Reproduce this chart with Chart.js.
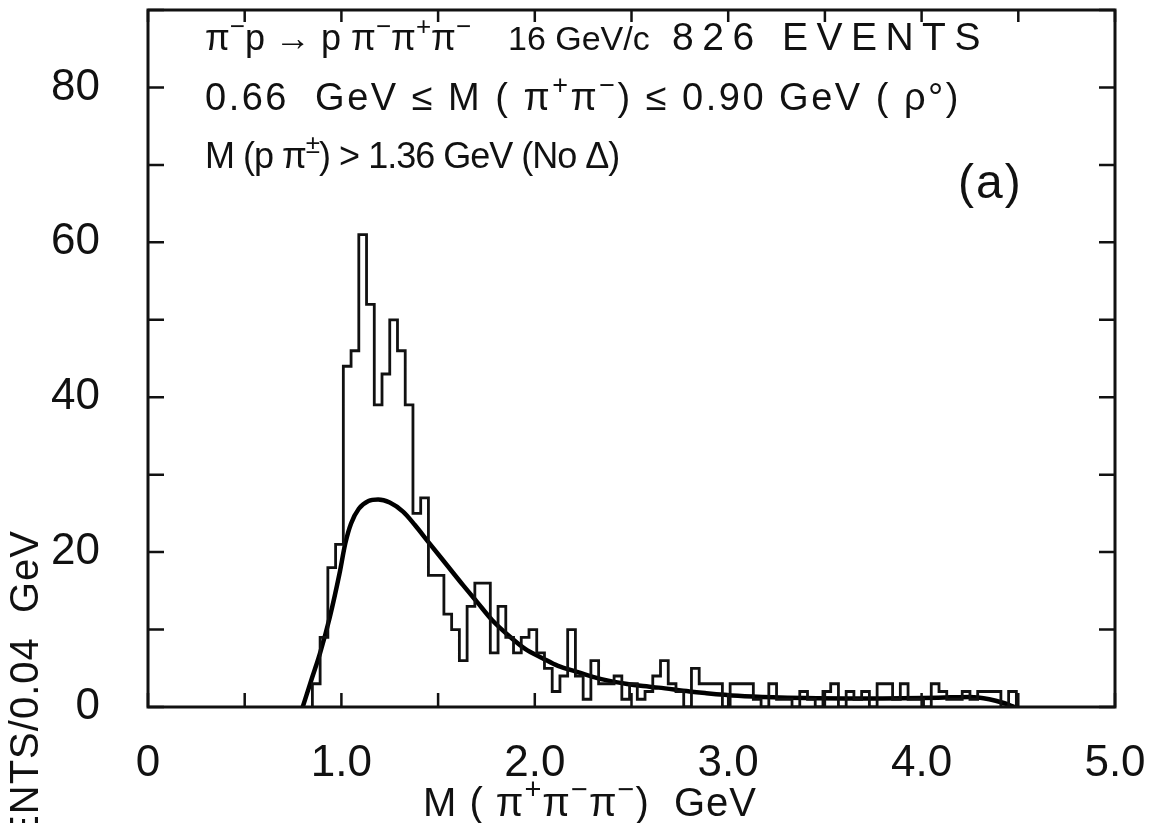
<!DOCTYPE html>
<html lang="en">
<head>
    <meta charset="UTF-8">
    <title>M(π+π−π−) spectrum, 16 GeV/c</title>
    <script src="https://cdn.jsdelivr.net/npm/chart.js"></script>
    <style>
        * {
            margin: 0;
            padding: 0;
            box-sizing: border-box;
        }

        body {
            background: #fff;
            width: 1158px;
            height: 823px;
            overflow: hidden;
        }

        .plot {
            position: relative;
            width: 1158px;
            height: 823px;
        }
    </style>
</head>
<body>
    <div class="plot">
        <canvas id="massChart"></canvas>
    </div>

    <script>
        // Histogram: events per 0.04 GeV bin, first bin starts at 0.85 GeV
        const binStart = 0.85;
        const binWidth = 0.04;
        const binCounts = [
            3, 9, 18, 21, 44, 46, 61, 52, 39, 43,
            50, 46, 39, 25, 27, 17, 17, 12, 10, 6,
            13, 16, 16, 7, 13, 9, 7, 9, 10, 7,
            5, 2, 4, 10, 4, 1, 6, 3, 3, 4,
            1, 3, 1, 2, 4, 6, 3, 2, 0, 5,
            3, 3, 3, 0, 3, 3, 3, 1, 0, 3,
            1, 1, 0, 2, 1, 0, 2, 3, 0, 2,
            1, 2, 0, 3, 3, 1, 3, 1, 1, 0,
            3, 2, 1, 1, 2, 1, 2, 2, 2, 0,
            2
        ];

        // Smooth curve drawn over the histogram
        const fitMass = [0.80, 0.85, 0.89, 0.94, 0.99, 1.02, 1.05, 1.09, 1.14, 1.19,
                         1.25, 1.32, 1.38, 1.45, 1.54, 1.63, 1.70, 1.78, 1.87, 1.95,
                         2.04, 2.12, 2.21, 2.30, 2.38, 2.47, 2.56, 2.64, 2.80, 2.88,
                         3.05, 3.23, 3.40, 3.60, 3.80, 4.00, 4.15, 4.25, 4.35, 4.42, 4.48];
        const fitEvents = [0, 3.9, 7.0, 11.6, 17.2, 21.1, 23.7, 25.6, 26.6, 26.8,
                           26.4, 25.2, 23.5, 21.3, 18.5, 15.7, 13.6, 11.2, 9.1, 7.5,
                           6.3, 5.3, 4.6, 3.9, 3.4, 3.0, 2.7, 2.5, 2.0, 1.8,
                           1.45, 1.25, 1.15, 1.1, 1.1, 1.15, 1.25, 1.3, 1.0, 0.55, 0];

        // Axis tick labels
        const xTickValues = [0, 1, 2, 3, 4, 5];
        const xTickLabels = ['0', '1.0', '2.0', '3.0', '4.0', '5.0'];
        const yTickValues = [0, 20, 40, 60, 80];
        const yTickLabels = ['0', '20', '40', '60', '80'];

        const FONT = "'Liberation Sans', 'DejaVu Sans', sans-serif";
        const INK = '#111';

        // outline of the histogram: step-before through the left bin edges
        const histPoints = [{ x: binStart, y: 0 }];
        binCounts.forEach((c, i) => histPoints.push({ x: binStart + i * binWidth, y: c }));
        histPoints.push({ x: binStart + binCounts.length * binWidth, y: 0 });

        const fitPoints = fitMass.map((m, i) => ({ x: m, y: fitEvents[i] }));

        // text with ^{...} runs raised and smaller; returns the end x
        function drawRich(ctx, str, x, y, size, spacing = 0, measureOnly = false) {
            ctx.letterSpacing = spacing + 'px';
            str.split(/(\^\{[^}]*\})/).forEach(p => {
                if (!p) return;
                const sup = p.startsWith('^{');
                const txt = sup ? p.slice(2, -1) : p;
                ctx.font = `${sup ? Math.round(size * 0.72) : size}px ${FONT}`;
                if (!measureOnly) ctx.fillText(txt, x, sup ? y - size * 0.42 : y);
                x += ctx.measureText(txt).width;
            });
            ctx.letterSpacing = '0px';
            return x;
        }

        // frame with inward ticks on all four sides, plus the lettering
        const paperFrame = {
            id: 'paperFrame',
            afterDraw(chart) {
                const { ctx, chartArea: a, scales: { x, y } } = chart;
                ctx.save();
                ctx.strokeStyle = INK;
                ctx.fillStyle = INK;
                ctx.lineCap = 'butt';

                ctx.lineWidth = 3;
                ctx.strokeRect(a.left, a.top, a.width, a.height);

                ctx.lineWidth = 2.5;
                ctx.beginPath();
                x.ticks.forEach(t => {
                    const px = x.getPixelForValue(t.value);
                    ctx.moveTo(px, a.bottom);
                    ctx.lineTo(px, a.bottom - 14);
                    ctx.moveTo(px, a.top);
                    ctx.lineTo(px, a.top + 12);
                });
                y.ticks.forEach(t => {
                    const py = y.getPixelForValue(t.value);
                    ctx.moveTo(a.left, py);
                    ctx.lineTo(a.left + 16, py);
                    ctx.moveTo(a.right, py);
                    ctx.lineTo(a.right - 16, py);
                });
                ctx.stroke();

                ctx.textBaseline = 'alphabetic';
                ctx.textAlign = 'left';
                drawRich(ctx, 'π^{−}p → p π^{−}π^{+}π^{−}', 205, 50, 36);
                drawRich(ctx, '16 GeV/c', 508, 50, 34);
                drawRich(ctx, '826 EVENTS', 672, 50, 39, 8.5);
                drawRich(ctx, '0.66  GeV ≤ M ( π^{+}π^{−}) ≤ 0.90 GeV ( ρ°)', 205, 110, 38, 2.5);
                drawRich(ctx, 'M (p π^{±}) > 1.36 GeV (No Δ)', 205, 168, 36, -1);
                drawRich(ctx, '(a)', 958, 198, 48, 2);

                // axis titles
                const xt = 'M ( π^{+}π^{−}π^{−})  GeV';
                const xw = drawRich(ctx, xt, 0, 0, 40, 1, true);
                drawRich(ctx, xt, 590 - xw / 2, 816, 40, 1);

                const yt = 'EVENTS/0.04  GeV';
                const yw = drawRich(ctx, yt, 0, 0, 40, 1, true);
                ctx.translate(38, 530);
                ctx.rotate(-Math.PI / 2);
                drawRich(ctx, yt, -yw, 0, 40, 1);
                ctx.restore();
            }
        };

        // drop the label overhang padding so the frame sits where it should
        function noPad(s) {
            s.paddingTop = 0;
            s.paddingBottom = 0;
            s.paddingLeft = 0;
            s.paddingRight = 0;
        }

        new Chart(document.getElementById('massChart'), {
            type: 'line',
            data: {
                datasets: [
                    {
                        label: 'Events',
                        data: histPoints,
                        stepped: 'before',
                        borderColor: INK,
                        borderWidth: 2.8,
                        pointRadius: 0,
                        fill: false
                    },
                    {
                        label: 'Curve',
                        data: fitPoints,
                        cubicInterpolationMode: 'monotone',
                        borderColor: '#000',
                        borderWidth: 4.5,
                        pointRadius: 0,
                        fill: false
                    }
                ]
            },
            options: {
                responsive: true,
                maintainAspectRatio: false,
                animation: false,
                events: [],
                layout: { padding: { top: 10, right: 43, left: 0, bottom: 0 } },
                plugins: {
                    legend: { display: false },
                    tooltip: { enabled: false }
                },
                scales: {
                    x: {
                        type: 'linear',
                        min: 0,
                        max: 5,
                        afterFit(s) { s.height = 116; noPad(s); },
                        border: { display: false },
                        grid: { display: false, drawTicks: false },
                        ticks: {
                            stepSize: 0.5,
                            autoSkip: false,
                            maxRotation: 0,
                            padding: 30,
                            color: INK,
                            font: { family: FONT, size: 44 },
                            callback(v) {
                                const i = xTickValues.indexOf(v);
                                return i < 0 ? '' : xTickLabels[i];
                            }
                        }
                    },
                    y: {
                        min: 0,
                        max: 90,
                        afterFit(s) { s.width = 148; noPad(s); },
                        border: { display: false },
                        grid: { display: false, drawTicks: false },
                        ticks: {
                            stepSize: 10,
                            padding: 48,
                            color: INK,
                            font: { family: FONT, size: 44 },
                            callback(v) {
                                const i = yTickValues.indexOf(v);
                                return i < 0 ? '' : yTickLabels[i];
                            }
                        }
                    }
                }
            },
            plugins: [paperFrame]
        });
    </script>
</body>
</html>
